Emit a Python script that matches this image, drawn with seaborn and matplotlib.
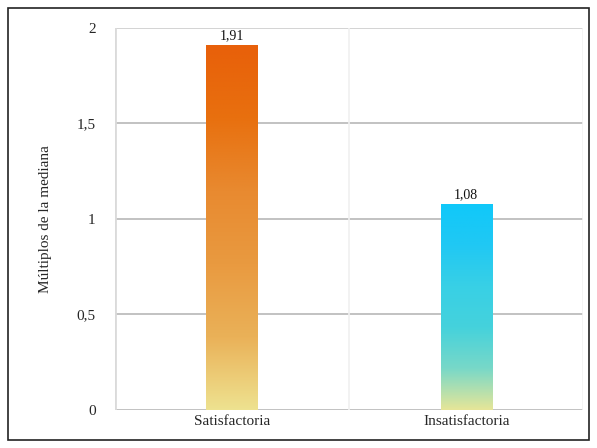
import numpy as np
import pandas as pd
import matplotlib
matplotlib.use('Agg')
import matplotlib.pyplot as plt
import seaborn as sns
from matplotlib.colors import LinearSegmentedColormap
from matplotlib.patches import Rectangle

sns.set_theme(style='white')
plt.rcParams['font.family'] = ['Liberation Serif', 'DejaVu Serif']

# Data
categories = ['Satisfactoria', 'Insatisfactoria']
values = [1.91, 1.08]
labels = ['1,91', '1,08']
yticks = [0, 0.5, 1, 1.5, 2]
ytick_labels = ['0', '0,5', '1', '1,5', '2']

# gradient colours (bottom -> top)
grad_colors = [
    ['#EEE290', '#EAB158', '#E99A40', '#E88A30', '#E8700F', '#E8600A'],
    ['#E6E698', '#78D8C8', '#45D2DC', '#38D0E6', '#20C8F4', '#10C8FA'],
]

df = pd.DataFrame({'cat': categories, 'val': values})

fig = plt.figure(figsize=(5.97, 4.48), dpi=100)
ax = fig.add_axes([0.193, 0.085, 0.784, 0.8525])

sns.barplot(data=df, x='cat', y='val', width=0.22, color='white', ax=ax)

# gradient fill clipped to each bar
for patch, cols in zip(ax.patches, grad_colors):
    x0, y0 = patch.get_x(), patch.get_y()
    w, h = patch.get_width(), patch.get_height()
    cmap = LinearSegmentedColormap.from_list('g', cols)
    grad = np.linspace(0, 1, 256).reshape(-1, 1)
    im = ax.imshow(grad, cmap=cmap, origin='lower', aspect='auto',
                   extent=[x0, x0 + w, y0, y0 + h], zorder=3)
    im.set_clip_path(patch)
    patch.set_edgecolor('none')

ax.set_xlim(-0.5, 1.5)
ax.set_ylim(0, 2)

for i, (v, lab) in enumerate(zip(values, labels)):
    ax.text(i, v + 0.015, lab, ha='center', va='bottom', fontsize=10, color='#111111')

# grid lines
for yt in yticks:
    ax.axhline(yt, color='#BDBDBD' if yt < 2 else '#D0D0D0', linewidth=1.3, zorder=1)
ax.axvline(0.5, color='#F0F0F0', linewidth=1.2, zorder=1)
ax.axvline(-0.5, color='#DADADA', linewidth=2, zorder=1)
ax.axvline(1.5, color='#F2F2F2', linewidth=1.2, zorder=1)

ax.set_yticks(yticks)
ax.set_yticklabels(ytick_labels, fontsize=11)
ax.tick_params(axis='y', length=12, width=1.3, color='#BDBDBD', pad=2)
ax.tick_params(axis='x', length=0, labelsize=11, pad=4)
ax.set_xlabel('')
ax.set_ylabel('Múltiplos de la mediana', fontsize=11, labelpad=18)

for s in ax.spines.values():
    s.set_visible(False)

# outer figure frame
fig.patches.append(Rectangle((0.0134, 0.018), 0.9732, 0.964, transform=fig.transFigure,
                             fill=False, edgecolor='#222222', linewidth=1.2))

fig.savefig('out.png', dpi=100)
